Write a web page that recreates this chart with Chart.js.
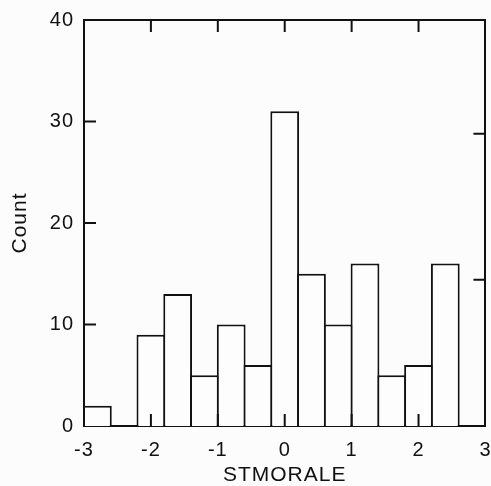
<!DOCTYPE html>
<html>
<head>
<meta charset="utf-8">
<script src="https://cdn.jsdelivr.net/npm/chart.js@4.4.1/dist/chart.umd.min.js"></script>
<style>
  html, body { margin: 0; padding: 0; background: #fcfcfc; }
  #wrap { width: 491px; height: 486px; }
</style>
</head>
<body>
<div id="wrap"><canvas id="c" width="491" height="486"></canvas></div>
<script>
// Histogram of STMORALE (bin width 0.4, from -3 to 3)
const binCenters = [-2.8, -2.4, -2.0, -1.6, -1.2, -0.8, -0.4, 0.0, 0.4, 0.8, 1.2, 1.6, 2.0, 2.4, 2.8];
const counts     = [2, 0, 9, 13, 5, 10, 6, 31, 15, 10, 16, 5, 6, 16, 0];
const xTicks = [-3, -2, -1, 0, 1, 2, 3];
const yTicks = [0, 10, 20, 30, 40];
const propTicks = [0, 0.1, 0.2];   // right-hand proportion axis (unlabelled)
const xTitle = 'STMORALE';
const yTitle = 'Count';

const total = counts.reduce((a, b) => a + b, 0);
const yMax = yTicks[yTicks.length - 1];
const ink = '#111111';
const fontFamily = '"Liberation Sans", Arial, sans-serif';

const inwardTicks = {
  id: 'inwardTicks',
  beforeDraw(chart) { chart.ctx.letterSpacing = '1px'; },
  afterDraw(chart) {
    const ctx = chart.ctx;
    const a = chart.chartArea;
    const len = 12;
    ctx.save();
    ctx.strokeStyle = ink;
    ctx.lineWidth = 2;
    ctx.beginPath();
    const xs = chart.scales.x;
    xTicks.forEach(v => {
      if (v <= xs.min || v >= xs.max) return;
      const px = xs.getPixelForValue(v);
      ctx.moveTo(px, a.bottom); ctx.lineTo(px, a.bottom - len);
      ctx.moveTo(px, a.top); ctx.lineTo(px, a.top + len);
    });
    const ys = chart.scales.y;
    yTicks.forEach(v => {
      if (v <= ys.min || v >= ys.max) return;
      const py = ys.getPixelForValue(v);
      ctx.moveTo(a.left, py); ctx.lineTo(a.left + len, py);
    });
    const ps = chart.scales.y2;
    propTicks.forEach(v => {
      if (v <= ps.min || v >= ps.max) return;
      const py = ps.getPixelForValue(v);
      ctx.moveTo(a.right, py); ctx.lineTo(a.right - len, py);
    });
    ctx.stroke();
    ctx.restore();
  }
};

new Chart(document.getElementById('c'), {
  type: 'bar',
  data: {
    datasets: [{
      data: binCenters.map((x, i) => ({ x: x, y: counts[i] })),
      backgroundColor: '#fdfdfd',
      borderColor: ink,
      borderWidth: 2,
      borderSkipped: 'bottom',
      categoryPercentage: 1.0,
      barPercentage: 1.075
    }]
  },
  options: {
    responsive: false,
    animation: false,
    devicePixelRatio: 1,
    layout: { padding: 0 },
    plugins: { legend: { display: false }, tooltip: { enabled: false } },
    scales: {
      x: {
        type: 'linear', position: 'bottom', min: -3, max: 3, offset: false,
        afterBuildTicks: s => { s.ticks = xTicks.map(v => ({ value: v })); },
        afterFit: s => { s.height = 60; },
        grid: { display: false, drawTicks: true, tickLength: 12, offset: false },
        border: { display: true, width: 2, color: ink },
        ticks: { padding: 0, color: ink, font: { family: fontFamily, size: 20 }, maxRotation: 0 },
        title: { display: true, text: xTitle, color: ink, padding: { top: 0, bottom: 0 },
                 font: { family: fontFamily, size: 21, lineHeight: 1 } }
      },
      x2: {
        type: 'linear', position: 'top', min: -3, max: 3, offset: false,
        afterFit: s => { s.height = 20; },
        grid: { display: false, drawTicks: false, offset: false },
        border: { display: true, width: 2, color: ink },
        ticks: { display: false, padding: 0 }
      },
      y: {
        type: 'linear', position: 'left', min: 0, max: yMax,
        afterBuildTicks: s => { s.ticks = yTicks.map(v => ({ value: v })); },
        afterFit: s => { s.width = 84; },
        grid: { display: false, drawTicks: true, tickLength: 10 },
        border: { display: true, width: 2, color: ink },
        ticks: { padding: 0, color: ink, font: { family: fontFamily, size: 20 } },
        title: { display: true, text: yTitle, color: ink, padding: { top: 10, bottom: 0 },
                 font: { family: fontFamily, size: 21, lineHeight: 1 } }
      },
      y2: {
        type: 'linear', position: 'right', min: 0, max: yMax / total,
        afterBuildTicks: s => { s.ticks = propTicks.map(v => ({ value: v })); },
        afterFit: s => { s.width = 5; },
        grid: { display: false, drawTicks: false },
        border: { display: true, width: 2, color: ink },
        ticks: { display: false, padding: 0 }
      }
    }
  },
  plugins: [inwardTicks]
});
</script>
</body>
</html>
